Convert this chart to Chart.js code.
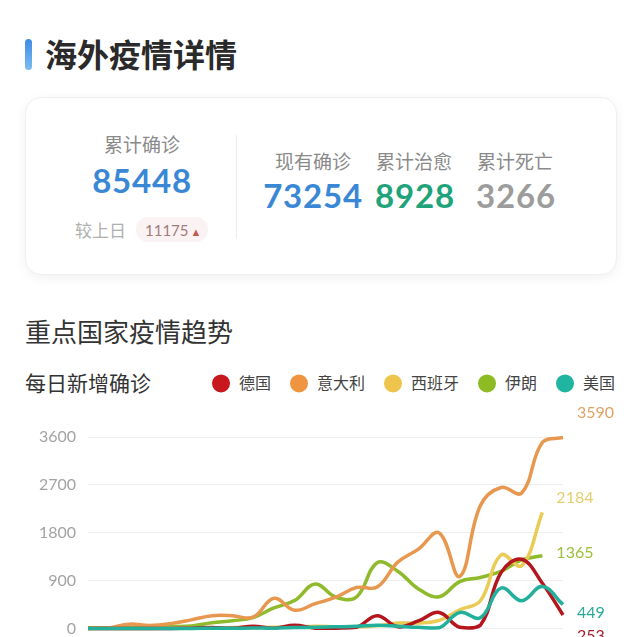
<!DOCTYPE html>
<html>
<head>
<meta charset="utf-8">
<script src="https://cdn.jsdelivr.net/npm/chart.js@4.4.1/dist/chart.umd.min.js"></script>
<style>
  body { margin: 0; width: 640px; height: 637px; overflow: hidden; background: #fff;
         font-family: "Noto Sans CJK SC", "Noto Sans", sans-serif; position: relative; }
  .t { position: absolute; white-space: nowrap; line-height: 1.2; transform: translate(-50%, -50%); }
  .l { position: absolute; white-space: nowrap; line-height: 1.2; transform: translateY(-50%); }
  .num { font-family: Lato, "Noto Sans", sans-serif; font-weight: 700; font-size: 33px; letter-spacing: 0.8px; }
  .cap { font-size: 19px; color: #8a8a8a; }
  #bar { position: absolute; left: 25px; top: 39px; width: 7px; height: 31px; border-radius: 4px;
         background: linear-gradient(#3b8de2, #7dbcf1); }
  #card { position: absolute; left: 25px; top: 97px; width: 590px; height: 176px; border-radius: 16px;
          border: 1px solid #f0f0f0; box-shadow: 0 3px 12px rgba(0,0,0,0.06); background: #fff; }
  #divider { position: absolute; left: 236px; top: 135px; width: 1px; height: 104px; background: #ececec; }
  #pill { position: absolute; left: 136px; top: 217px; width: 72px; height: 25px; border-radius: 12px; background: #fbf3f3; }
  #legend { position: absolute; left: 212px; top: 383px; transform: translateY(-50%); display: flex; align-items: center; }
  #legend .dot { width: 18px; height: 18px; border-radius: 50%; margin-right: 9px; }
  #legend .name { font-size: 16px; color: #444; margin-right: 19px; line-height: 1.2; }
  #wrap { position: absolute; left: 0; top: 400px; width: 640px; height: 250px; }
</style>
</head>
<body>
<div id="bar"></div>
<div class="l" style="left:45px; top:53px; font-size:32px; font-weight:700; color:#2a2a2a;">海外疫情详情</div>

<div id="card"></div>
<div class="t cap" style="left:142px; top:144px;">累计确诊</div>
<div class="t num" style="left:142px; top:181px; color:#3a88d5;">85448</div>
<div class="l" style="left:75px; top:230px; font-size:17px; color:#b0b0b0;">较上日</div>
<div id="pill"></div>
<div class="l" style="left:145px; top:230px; font-family:Lato, sans-serif; font-size:15px; color:#a07c7c;">11175<span style="color:#c25a55; font-size:11px; margin-left:2px;">▲</span></div>
<div id="divider"></div>
<div class="t cap" style="left:313px; top:161px;">现有确诊</div>
<div class="t num" style="left:313px; top:196px; color:#3a88d5;">73254</div>
<div class="t cap" style="left:414px; top:161px;">累计治愈</div>
<div class="t num" style="left:415px; top:196px; color:#1ea37a;">8928</div>
<div class="t cap" style="left:515px; top:161px;">累计死亡</div>
<div class="t num" style="left:516px; top:196px; color:#9c9c9c;">3266</div>

<div class="l" style="left:25px; top:331px; font-size:26px; font-weight:400; color:#333;">重点国家疫情趋势</div>
<div class="l" style="left:25px; top:383px; font-size:21px; color:#333;">每日新增确诊</div>
<div id="legend"></div>

<div id="wrap"><canvas id="trend" width="640" height="250"></canvas></div>

<script>
// dates 2.21 - 3.15
const dates = ['2.21', '2.22', '2.23', '2.24', '2.25', '2.26', '2.27', '2.28', '2.29', '3.1', '3.2', '3.3',
               '3.4', '3.5', '3.6', '3.7', '3.8', '3.9', '3.10', '3.11', '3.12', '3.13', '3.14', '3.15'];

const countries = ['德国', '意大利', '西班牙', '伊朗', '美国'];

const germany = [0, 0, 0, 0, 0, 5, 15, 5, 40, 5, 60, 5, 5, 20, 240, 30, 140, 300, 20, 60, 1050, 1300, 850, 253];
const italy   = [0, 10, 80, 55, 90, 160, 240, 240, 210, 566, 342, 466, 587, 769, 778, 1247, 1492, 1797, 977, 2313, 2651, 2547, 3497, 3590];
const spain   = [0, 0, 0, 0, 4, 7, 2, 17, 13, 20, 20, 40, 30, 30, 50, 100, 100, 150, 350, 520, 1380, 1180, 2184, null];
const iran    = [13, 10, 15, 18, 34, 44, 106, 143, 205, 385, 523, 835, 586, 591, 1234, 1076, 743, 595, 881, 958, 1075, 1289, 1365, null];
const usa     = [0, 0, 0, 0, 0, 0, 5, 2, 8, 5, 15, 20, 30, 40, 60, 40, 20, 10, 300, 200, 760, 520, 790, 449];

const yTicks = [0, 900, 1800, 2700, 3600];

const lineColors  = ['#b5161e', '#e8974f', '#e9cb55', '#8eba2b', '#22b09c'];
const dotColors   = ['#c8171d', '#ef9440', '#efc44c', '#8dbb24', '#1fb5a0'];
const labelColors = ['#a91d2a', '#e0a363', '#e3cf6c', '#9cbf3a', '#2aa99a'];
const labelShift  = [21, -25, -14, -3, 8];

// legend
const legend = document.getElementById('legend');
countries.forEach(function (name, i) {
    const dot = document.createElement('span');
    dot.className = 'dot';
    dot.style.background = dotColors[i];
    const txt = document.createElement('span');
    txt.className = 'name';
    txt.textContent = name;
    legend.appendChild(dot);
    legend.appendChild(txt);
});

// values written at the end of each line
const endLabels = {
    id: 'endLabels',
    afterDatasetsDraw(chart) {
        const ctx = chart.ctx;
        chart.data.datasets.forEach(function (ds, i) {
            let last = ds.data.length - 1;
            while (last > 0 && ds.data[last] == null) last--;
            const pt = chart.getDatasetMeta(i).data[last];
            ctx.save();
            ctx.font = '16px Lato, "Noto Sans", sans-serif';
            ctx.fillStyle = labelColors[i];
            ctx.textAlign = 'left';
            ctx.textBaseline = 'middle';
            ctx.fillText(String(ds.data[last]), pt.x + 14, pt.y + labelShift[i]);
            ctx.restore();
        });
    }
};

const series = [germany, italy, spain, iran, usa];

new Chart(document.getElementById('trend'), {
    type: 'line',
    data: {
        labels: dates,
        datasets: series.map(function (values, i) {
            return {
                label: countries[i],
                data: values,
                borderColor: lineColors[i],
                backgroundColor: lineColors[i],
                borderWidth: 3.5,
                pointRadius: 0,
                tension: 0.4,
                clip: false,
                order: i === 4 ? 0 : i + 1
            };
        })
    },
    options: {
        responsive: false,
        animation: false,
        devicePixelRatio: 1,
        layout: { padding: { left: 0, right: 77, top: 37, bottom: 20 } },
        plugins: { legend: { display: false }, tooltip: { enabled: false } },
        scales: {
            x: { display: false },
            y: {
                min: 0,
                max: 3600,
                afterFit: function (scale) { scale.width = 88; },
                afterBuildTicks: function (scale) { scale.ticks = yTicks.map(v => ({ value: v })); },
                border: { display: false },
                grid: { color: '#eeeeee', lineWidth: 1, drawTicks: false },
                ticks: {
                    padding: 12,
                    color: '#a3a3a3',
                    font: { family: 'Lato', size: 16 },
                    callback: function (value) { return String(value); }
                }
            }
        }
    },
    plugins: [endLabels]
});
</script>
</body>
</html>
